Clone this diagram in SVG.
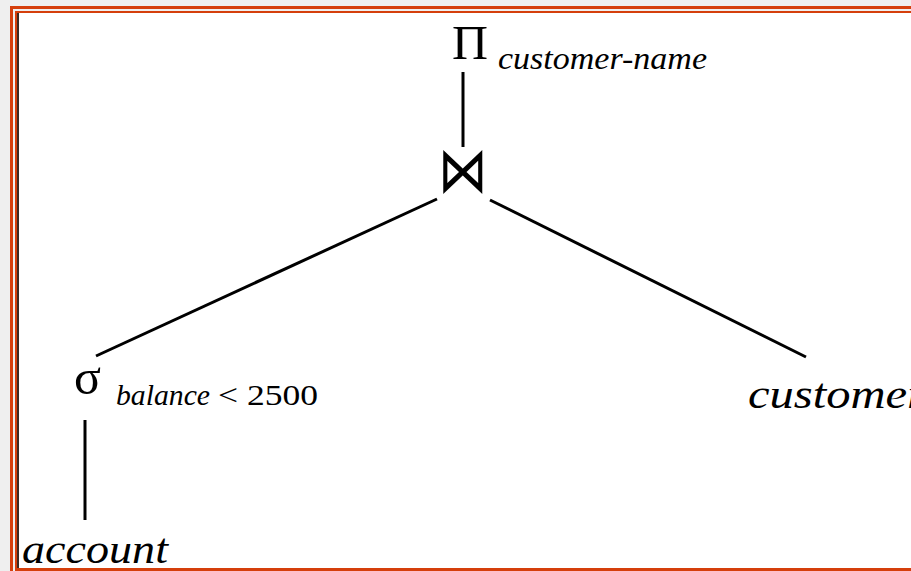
<svg xmlns="http://www.w3.org/2000/svg" width="911" height="571" viewBox="0 0 911 571">
<style>
.sym{font-family:"Liberation Serif","DejaVu Serif",serif;fill:#000}
.it{font-family:"Liberation Serif","DejaVu Serif",serif;font-style:italic;fill:#000}
.edge{stroke:#000;stroke-width:3;fill:none}
.or{fill:#d53f0c}
</style>
<rect x="0" y="0" width="911" height="571" fill="#efefef"/>
<rect x="19" y="12" width="892" height="556" fill="#fff"/>
<rect class="or" x="10" y="6" width="901" height="3"/>
<rect class="or" x="10" y="6" width="3" height="565"/>
<rect class="or" x="15" y="11" width="896" height="2"/>
<rect class="or" x="15" y="11" width="2" height="560"/>
<rect x="17" y="13" width="2" height="555" fill="#3a2a22"/>
<rect class="or" x="15" y="568" width="896" height="3"/>
<g id="connectors">
<line class="edge" x1="463" y1="72" x2="463" y2="147"/>
<line class="edge" x1="437" y1="199" x2="96" y2="356"/>
<line class="edge" x1="490" y1="200" x2="806" y2="357"/>
<line class="edge" x1="85" y1="420" x2="85" y2="520"/>
</g>
<g id="project">
<text class="sym" x="452" y="59" font-size="48" textLength="36" lengthAdjust="spacingAndGlyphs">Π</text>
<text class="it" x="498" y="69" font-size="32" textLength="209" lengthAdjust="spacingAndGlyphs">customer-name</text>
</g>
<g id="join">
<text transform="translate(463,192) scale(0.89,1.15)" font-family="DejaVu Sans, sans-serif" font-weight="200" font-size="56" text-anchor="middle">⋈</text>
</g>
<g id="select">
<text class="sym" x="74" y="394" font-size="50">σ</text>
<text class="it" x="116" y="405" font-size="30" textLength="94" lengthAdjust="spacingAndGlyphs">balance</text>
<text class="sym" x="218" y="405" font-size="30" textLength="100" lengthAdjust="spacingAndGlyphs">&lt; 2500</text>
</g>
<g id="customer">
<text class="it" x="748" y="408" font-size="42" textLength="178" lengthAdjust="spacingAndGlyphs">customer</text>
</g>
<g id="account">
<text class="it" x="22" y="563" font-size="42" textLength="146" lengthAdjust="spacingAndGlyphs">account</text>
</g>
</svg>
